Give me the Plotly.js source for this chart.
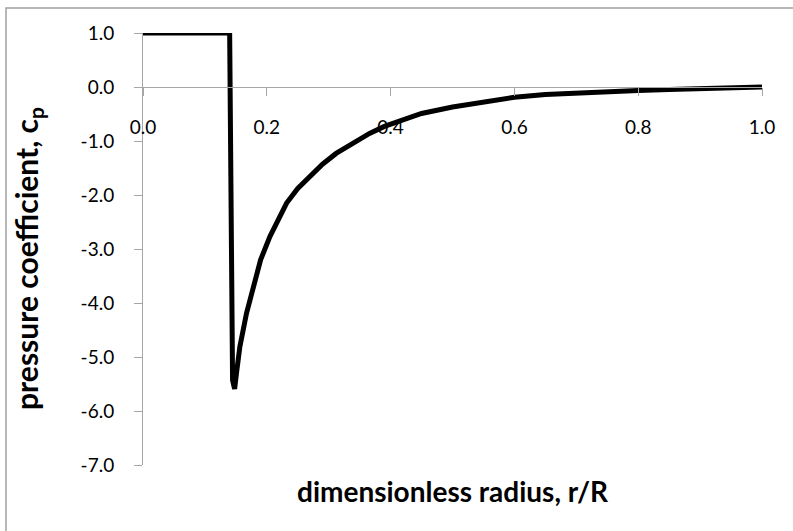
<!DOCTYPE html>
<html>
<head>
<meta charset="utf-8">
<script src="https://cdn.plot.ly/plotly-3.0.1.min.js"></script>
<style>html,body{margin:0;padding:0;background:#fff;}#chart{width:793px;height:531px;}</style>
</head>
<body>
<div id="chart"></div>
<script>
// dimensionless radius r/R
const radius = [0, 0.140, 0.1447, 0.148, 0.151, 0.1565, 0.1672, 0.178, 0.190, 0.205, 0.22, 0.232, 0.25, 0.269, 0.29, 0.312, 0.34, 0.366, 0.39, 0.415, 0.45, 0.5, 0.55, 0.6, 0.65, 0.7, 0.75, 0.8, 0.85, 0.9, 0.95, 1.0];
// pressure coefficient cp
const cp = [1.0, 1.0, -5.43, -5.59, -5.30, -4.81, -4.19, -3.70, -3.20, -2.77, -2.40, -2.15, -1.88, -1.66, -1.43, -1.23, -1.03, -0.86, -0.73, -0.62, -0.49, -0.37, -0.27, -0.19, -0.14, -0.11, -0.085, -0.065, -0.045, -0.03, -0.015, 0.0];
const xTicks = [0, 0.2, 0.4, 0.6, 0.8, 1.0];
const xTickText = ['0.0', '0.2', '0.4', '0.6', '0.8', '1.0'];
const yTicks = [1, 0, -1, -2, -3, -4, -5, -6, -7];
const yTickText = ['1.0', '0.0', '-1.0', '-2.0', '-3.0', '-4.0', '-5.0', '-6.0', '-7.0'];

const font = 'Lato, "Open Sans", sans-serif';
const axisColor = '#a6a6a6';

const data = [{
  x: radius, y: cp, type: 'scatter', mode: 'lines',
  line: {color: '#000', width: 5, shape: 'linear'},
  hoverinfo: 'skip', cliponaxis: false
}];

const layout = {
  width: 793, height: 531,
  margin: {l: 143, r: 31, t: 33, b: 66},
  paper_bgcolor: '#fff', plot_bgcolor: '#fff',
  showlegend: false,
  font: {family: font, color: '#000', size: 19},
  xaxis: {
    range: [0, 1], tickvals: xTicks, ticktext: xTickText,
    showgrid: false, zeroline: false,
    showline: true, linecolor: axisColor, linewidth: 1,
    ticks: 'outside', ticklen: 8, tickcolor: axisColor, tickwidth: 1,
    anchor: 'free', position: 0.875, side: 'bottom',
    ticklabelstandoff: 15,
    tickfont: {family: font, size: 19, color: '#000'}
  },
  yaxis: {
    range: [-7, 1], tickvals: yTicks, ticktext: yTickText,
    showgrid: false, zeroline: false,
    showline: true, linecolor: axisColor, linewidth: 1,
    ticks: 'outside', ticklen: 8, tickcolor: axisColor, tickwidth: 1,
    ticklabelstandoff: 16,
    tickfont: {family: font, size: 19, color: '#000'}
  },
  annotations: [
    {text: '<b>dimensionless radius, r/R</b>', xref: 'paper', yref: 'paper',
     x: 0.5, y: -0.060, xanchor: 'center', yanchor: 'middle', showarrow: false,
     font: {family: font, size: 28, color: '#000'}},
    {text: '<b>pressure coefficient, c<sub>p</sub></b>', xref: 'paper', yref: 'paper',
     x: -0.186, y: 0.479, xanchor: 'center', yanchor: 'middle', showarrow: false, textangle: -90,
     font: {family: font, size: 30, color: '#000'}}
  ],
  shapes: [
    {type: 'rect', xref: 'paper', yref: 'paper', x0: -0.2213, x1: 2, y0: -1, y1: 1.0579,
     line: {color: '#a0a0a0', width: 1.5}, fillcolor: 'rgba(0,0,0,0)', layer: 'below'}
  ]
};

Plotly.newPlot('chart', data, layout, {staticPlot: true, displayModeBar: false});
</script>
</body>
</html>
